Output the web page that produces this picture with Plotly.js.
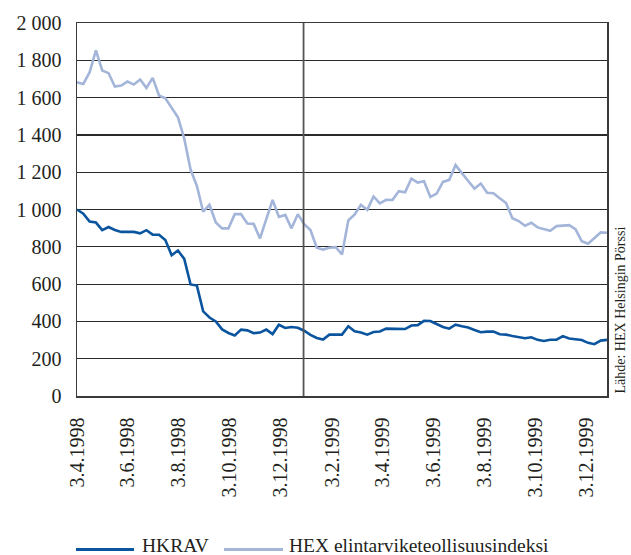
<!DOCTYPE html>
<html>
<head>
<meta charset="utf-8">
<script src="https://cdn.plot.ly/plotly-3.0.1.min.js"></script>
<style>
html,body{margin:0;padding:0;background:#fff;}
#chart{width:631px;height:555px;}
</style>
</head>
<body>
<div id="chart"></div>
<script>
const hkrav = [1000, 978, 935, 930, 889, 906, 890, 880, 880, 880, 872, 889, 865, 865, 836, 755, 780, 735, 598, 592,
  454, 421, 400, 357, 338, 325, 356, 352, 337, 340, 356, 332, 382, 365, 370, 366,
  350, 328, 311, 303, 329, 329, 329, 374, 347, 341, 329, 343, 346, 361, 361, 358, 359, 378, 380, 403,
  402, 386, 370, 361, 382, 374, 367, 354, 342, 345, 346, 331, 329, 322, 316, 310, 315, 301, 295, 302,
  302, 321, 308, 303, 300, 285, 278, 297, 301];
const hex = [1682, 1673, 1736, 1853, 1745, 1731, 1659, 1665, 1686, 1670, 1697, 1652, 1706, 1611, 1596, 1548, 1494, 1380, 1214, 1126,
  988, 1025, 930, 899, 899, 975, 975, 925, 923, 845, 950, 1051, 960, 971, 899, 975, 921,
  890, 795, 785, 795, 798, 759, 942, 973, 1025, 998, 1070, 1033, 1052, 1051, 1098, 1092, 1166, 1144, 1151,
  1067, 1085, 1148, 1159, 1238, 1193, 1153, 1112, 1139, 1090, 1087, 1060, 1035, 953, 938, 913, 929, 904, 895,
  886, 911, 915, 916, 895, 830, 816, 846, 877, 875];

const seriesNames = ['HKRAV', 'HEX elintarviketeollisuusindeksi'];
const xStart = '1998-04-03';
const xEnd = '1999-12-28';
const yearMark = '1998-12-30';
const xTickVals = ['1998-04-03','1998-06-03','1998-08-03','1998-10-03','1998-12-03','1999-02-03',
  '1999-04-03','1999-06-03','1999-08-03','1999-10-03','1999-12-03'];
const xTickText = ['3.4.1998','3.6.1998','3.8.1998','3.10.1998','3.12.1998','3.2.1999',
  '3.4.1999','3.6.1999','3.8.1999','3.10.1999','3.12.1999'];
const yTickVals = [0, 200, 400, 600, 800, 1000, 1200, 1400, 1600, 1800, 2000];
const yTickText = ['0', '200', '400', '600', '800', '1 000', '1 200', '1 400', '1 600', '1 800', '2 000'];
const sourceText = 'Lähde: HEX Helsingin Pörssi';

// observation dates: equally spaced between the first and last observation
const t0 = Date.parse(xStart + 'T00:00:00Z');
const t1 = Date.parse(xEnd + 'T00:00:00Z');
const dates = hkrav.map((_, i) => new Date(t0 + (t1 - t0) * i / (hkrav.length - 1)).toISOString().slice(0, 19));

const cDark = '#0b559f';
const cLight = '#a4b5da';
const ink = '#231f20';
const FONT = 'Liberation Serif, Times New Roman, serif';

const traces = [
  {x: dates, y: hex, type: 'scatter', mode: 'lines', name: seriesNames[1],
   line: {color: cLight, width: 2.6}, showlegend: false},
  {x: dates, y: hkrav, type: 'scatter', mode: 'lines', name: seriesNames[0],
   line: {color: cDark, width: 2.6}, showlegend: false}
];

const L = 77, R = 607, T = 23, B = 396;
const px2x = p => (p - L) / (R - L);
const px2y = p => (B - p) / (B - T);

const layout = {
  width: 631, height: 555,
  margin: {l: L, r: 631 - R, t: T, b: 555 - B, pad: 0},
  paper_bgcolor: '#fff', plot_bgcolor: '#fff',
  font: {family: FONT, size: 20, color: ink},
  showlegend: false,
  xaxis: {
    type: 'date', range: [xStart, xEnd],
    tickmode: 'array', tickvals: xTickVals, ticktext: xTickText,
    tickangle: -90, ticks: '', ticklabelstandoff: 12,
    showgrid: false, zeroline: false,
    showline: true, mirror: true, linecolor: '#3a3a3a', linewidth: 1.5,
    tickfont: {family: FONT, size: 20, color: ink}
  },
  yaxis: {
    range: [0, 2000], tickmode: 'array', tickvals: yTickVals, ticktext: yTickText,
    ticks: '', ticklabelstandoff: 10,
    showgrid: true, gridcolor: '#2a2a2a', gridwidth: 1.2,
    zeroline: false, showline: true, mirror: true, linecolor: '#3a3a3a', linewidth: 1.5,
    tickfont: {family: FONT, size: 20, color: ink}
  },
  shapes: [
    {type: 'line', xref: 'x', yref: 'paper', x0: yearMark, x1: yearMark, y0: 0, y1: 1,
     line: {color: '#555', width: 1.8}},
    {type: 'line', xref: 'paper', yref: 'paper', x0: px2x(76), x1: px2x(134), y0: px2y(549.5), y1: px2y(549.5),
     line: {color: cDark, width: 3}},
    {type: 'line', xref: 'paper', yref: 'paper', x0: px2x(224), x1: px2x(283), y0: px2y(549.5), y1: px2y(549.5),
     line: {color: cLight, width: 3}}
  ],
  annotations: [
    {xref: 'paper', yref: 'paper', x: px2x(142), y: px2y(545.5), xanchor: 'left', yanchor: 'middle',
     text: seriesNames[0], showarrow: false, borderpad: 0, borderwidth: 0,
     font: {family: FONT, size: 19.5, color: ink}},
    {xref: 'paper', yref: 'paper', x: px2x(289), y: px2y(545.5), xanchor: 'left', yanchor: 'middle',
     text: seriesNames[1], showarrow: false, borderpad: 0, borderwidth: 0,
     font: {family: FONT, size: 19.5, color: ink}},
    {xref: 'paper', yref: 'paper', x: px2x(620), y: 0, xanchor: 'center', yanchor: 'bottom',
     text: sourceText, textangle: -90, showarrow: false, font: {family: FONT, size: 14, color: ink}}
  ]
};

Plotly.newPlot('chart', traces, layout, {staticPlot: true, displayModeBar: false});
</script>
</body>
</html>
